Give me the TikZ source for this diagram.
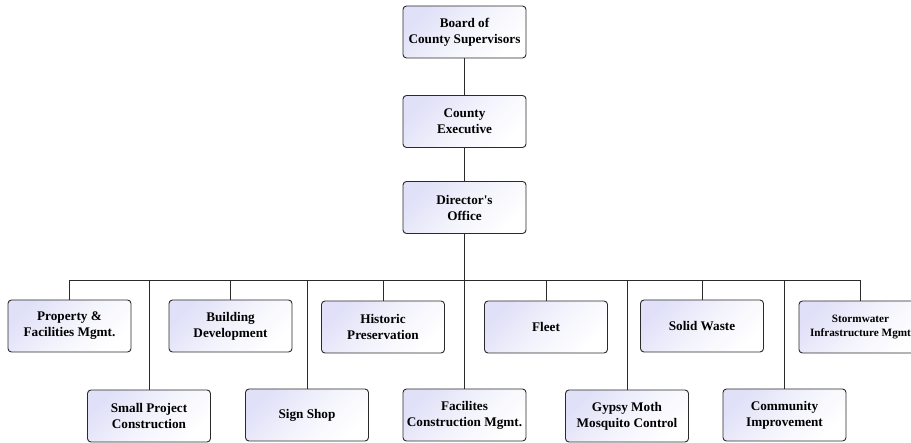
\documentclass[tikz,border=0pt]{standalone}
\usepackage{fontspec}
\setmainfont{Liberation Serif}
\definecolor{lav}{HTML}{E0E0F8}
\definecolor{edge}{HTML}{2A2A2A}
\tikzset{
  box/.style={draw=edge, line width=0.9pt, rounded corners=3.5pt,
    minimum width=123pt, minimum height=52pt, inner sep=1pt, align=center,
    font=\fontsize{13.2}{16}\selectfont\bfseries,
    top color=lav, bottom color=white, middle color=lav!40, shading angle=45},
  link/.style={draw=edge, line width=0.8pt}
}
\begin{document}
\begin{tikzpicture}[x=1pt,y=-1pt]
\useasboundingbox (0,0) rectangle (911,443);
\node[box] (board) at (464.5,32) {Board of\\County Supervisors};
\node[box] (exec) at (464.5,121.5) {County\\Executive};
\node[box] (dir) at (464.5,207.5) {Director\textquotesingle s\\Office};
% upper row
\node[box] (prop) at (69.5,326) {Property \&\\Facilities Mgmt.};
\node[box] (build) at (230.5,326) {Building\\Development};
\node[box] (hist) at (383,327) {Historic\\Preservation};
\node[box] (fleet) at (546,327) {Fleet};
\node[box] (solid) at (702,326) {Solid Waste};
\node[box, font=\fontsize{11.2}{13.5}\selectfont\bfseries] (storm) at (860.5,327) {Stormwater\\Infrastructure Mgmt};
% lower row
\node[box] (small) at (149,416) {Small Project\\Construction};
\node[box] (sign) at (307,415) {Sign Shop};
\node[box] (fac) at (464.5,415) {Facilites\\Construction Mgmt.};
\node[box] (gypsy) at (627,416) {Gypsy Moth\\Mosquito Control};
\node[box] (comm) at (784.5,415) {Community\\Improvement};
% connectors
\coordinate (busL) at (69.5,280);
\coordinate (busR) at (860.5,280);
\draw[link] (board.south) -- (exec.north);
\draw[link] (exec.south) -- (dir.north);
\draw[link] (dir.south) -- (dir.south |- busL);
\draw[link] (busL) -- (busR);
\foreach \n in {prop,build,hist,fleet,solid,storm,small,sign,fac,gypsy,comm}
  \draw[link] (\n.north) -- (\n.north |- busL);
\end{tikzpicture}
\end{document}
